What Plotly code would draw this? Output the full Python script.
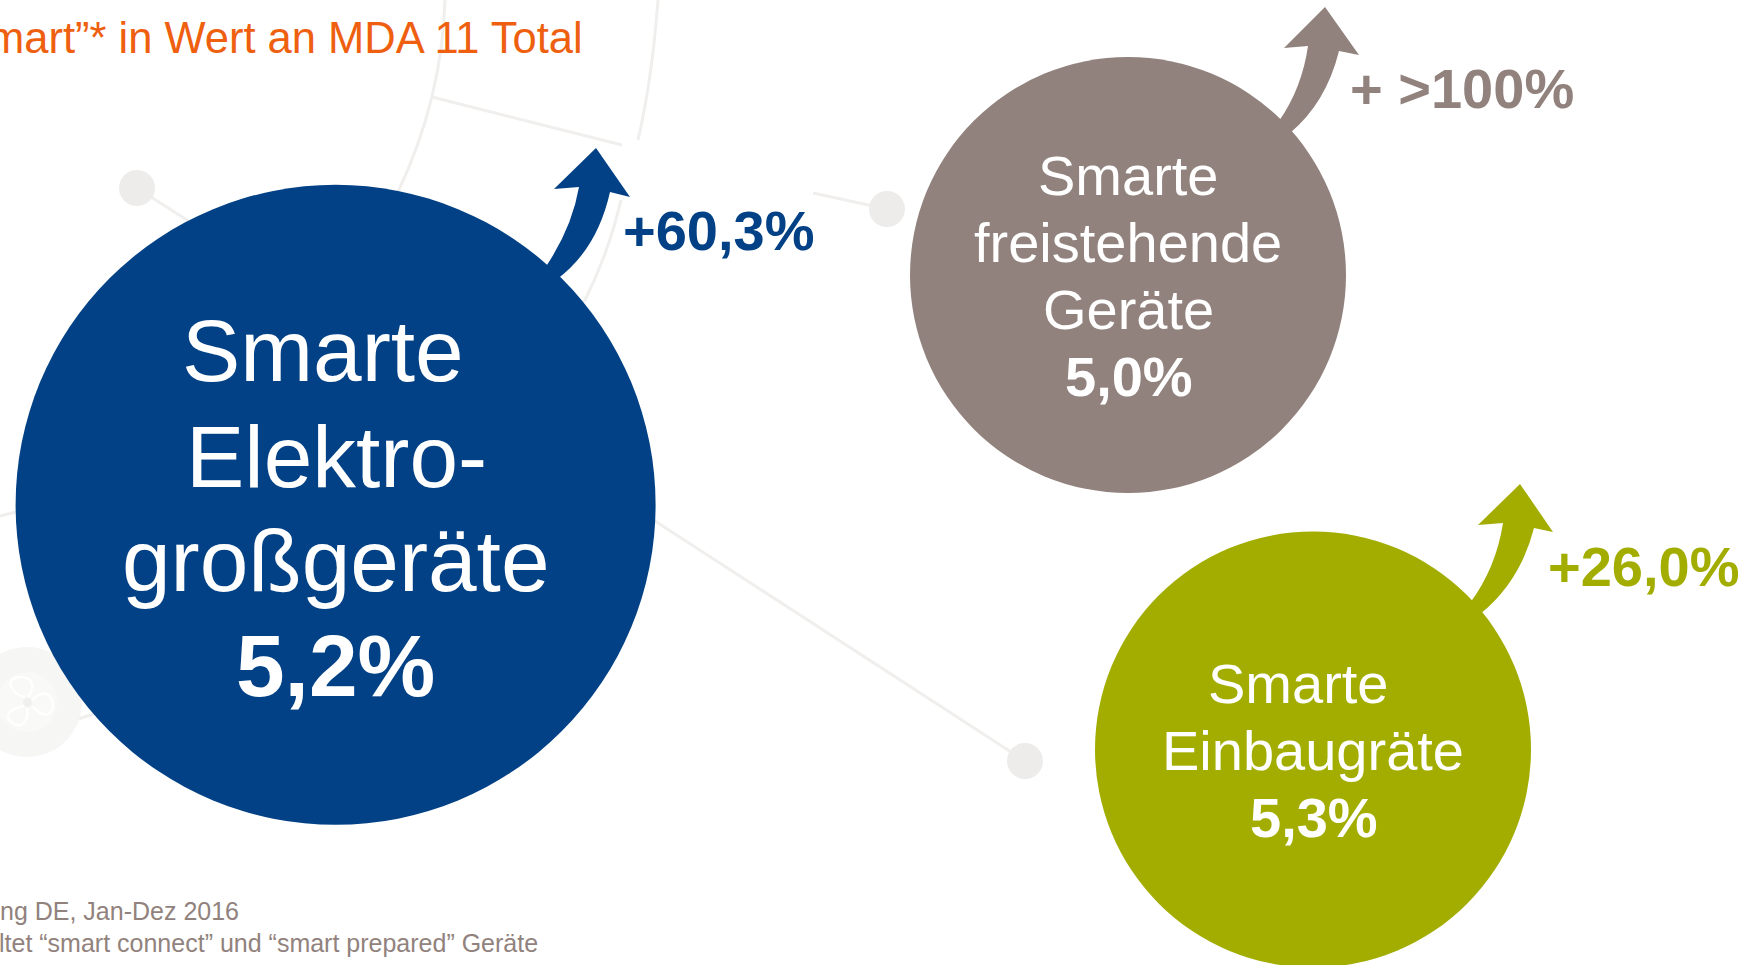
import plotly.graph_objects as go

# ---- chart content ----
categories = [["Smarte", "Elektro-", "großgeräte"],
              ["Smarte", "freistehende", "Geräte"],
              ["Smarte", "Einbaugräte"]]
share_labels = ["5,2%", "5,0%", "5,3%"]
growth_labels = ["+60,3%", "+ >100%", "+26,0%"]
title_text = "mart”* in Wert an MDA 11 Total"
foot_lines = ["ng DE, Jan-Dez 2016", "ltet “smart connect” und “smart prepared” Geräte"]

# ---- layout and style ----
W, H = 1751, 965
colors = ["#024185", "#91827D", "#A2AD00"]
centers_x = [335.6, 1128, 1313]
centers_y = [504.8, 275, 749.5]
diameters = [640, 436, 436]
FONT = "Liberation Sans, Arial, sans-serif"
DECO = "#F0EFED"
DOT = "#EDECEA"

arrows = [
    "M 545 268 Q 572 228 579 187 L 554 189 L 596 148 L 630 197 L 610 192 Q 597 250 556 280 Z",
    "M 1279 121 Q 1302 88 1308 46 L 1284 48 L 1325 7 L 1359 55 L 1339 51 Q 1326 103 1290 133 Z",
    "M 1470 603 Q 1496 568 1503 523 L 1478 525 L 1520 484 L 1553 532 L 1534 528 Q 1520 582 1480 614 Z",
]
deco_paths = [
    "M 445 0 Q 442 99 398 192",
    "M 658 0 Q 652 80 638 140",
    "M 621 200 Q 608 255 584 302",
    "M 432 97 L 622 145",
    "M 813 193 L 887 209",
    "M 655 521 L 1025 761",
    "M 137 188 L 190 222",
    "M 0 516 L 20 511",
    "M 78 719 L 100 712",
]
deco_dots = [(137, 188, 18), (887, 209, 18), (1025, 761, 18)]
fan_blades = [
    "M 25 697 C 14 695 8 685 12 680 C 17 675 30 676 32 684 C 33 690 30 694 28 697",
    "M 32 700 C 36 696 42 692 47 694 C 53 697 55 708 50 713 C 45 717 38 712 33 707",
    "M 24 705 C 20 708 12 708 9 713 C 6 719 12 725 20 725 C 27 724 28 715 27 708",
]

shapes = []
for p in deco_paths:
    shapes.append(dict(type="path", path=p, line=dict(color=DECO, width=3), layer="below"))
for cx, cy, r in deco_dots:
    shapes.append(dict(type="circle", x0=cx - r, x1=cx + r, y0=cy - r, y1=cy + r,
                       fillcolor=DOT, line=dict(width=0), layer="below"))
shapes.append(dict(type="circle", x0=-28, x1=82, y0=647, y1=757,
                   fillcolor="#F6F6F5", line=dict(width=0), layer="below"))
shapes.append(dict(type="circle", x0=-3, x1=57, y0=672, y1=732,
                   fillcolor="#F9F9F8", line=dict(width=0), layer="below"))
for p in fan_blades:
    shapes.append(dict(type="path", path=p, line=dict(color="#FFFFFF", width=2.5), layer="below"))
shapes.append(dict(type="circle", x0=23, x1=32, y0=698, y1=707,
                   fillcolor="#F0F0EF", line=dict(width=0), layer="below"))
for p, c in zip(arrows, colors):
    shapes.append(dict(type="path", path=p, fillcolor=c, line=dict(width=0), layer="below"))


def label(text, x, baseline, size, color, bold=False, anchor="center"):
    return dict(text=f"<b>{text}</b>" if bold else text, x=x,
                y=baseline - 0.347 * size, xref="x", yref="y",
                xanchor=anchor, yanchor="middle", showarrow=False,
                font=dict(family=FONT, size=size, color=color), borderpad=0)


WHITE = "#FFFFFF"
big, mid = 87.4, 56
name_x = [[323, 336, 335.5], [1128, 1128, 1128], [1298, 1313]]
name_base = [[381, 487, 591], [195, 262, 329], [703, 770]]
share_x = [335, 1128.5, 1313.5]
share_base = [696, 396, 837]
name_size = [big, mid, mid]
growth_x = [622, 1349, 1547]
growth_base = [250, 108, 586]
growth_size = [56, 56, 56]

annotations = [label(title_text, 584, 53, 43.5, "#EE6010", anchor="right")]
annotations.append(label(foot_lines[0], 240, 920, 25, "#91827D", anchor="right"))
annotations.append(label(foot_lines[1], 539, 952, 25, "#91827D", anchor="right"))
for i, lines in enumerate(categories):
    for t, x, b in zip(lines, name_x[i], name_base[i]):
        annotations.append(label(t, x, b, name_size[i], WHITE))
    annotations.append(label(share_labels[i], share_x[i], share_base[i], name_size[i], WHITE, bold=True))
    annotations.append(label(growth_labels[i], growth_x[i], growth_base[i], growth_size[i], colors[i], bold=True, anchor="left"))

fig = go.Figure(go.Scatter(
    x=centers_x, y=centers_y, mode="markers",
    marker=dict(size=diameters, sizemode="diameter", color=colors, line=dict(width=0), opacity=1),
    hoverinfo="skip", cliponaxis=False,
))
fig.update_layout(
    width=W, height=H, margin=dict(l=0, r=0, t=0, b=0),
    paper_bgcolor="#FFFFFF", plot_bgcolor="#FFFFFF", showlegend=False,
    xaxis=dict(range=[0, W], visible=False, fixedrange=True),
    yaxis=dict(range=[H, 0], visible=False, fixedrange=True),
    shapes=shapes, annotations=annotations,
)
fig.write_html("out.html", config={"displayModeBar": False},
               post_script="document.body.style.margin='0';document.body.style.overflow='hidden';")
